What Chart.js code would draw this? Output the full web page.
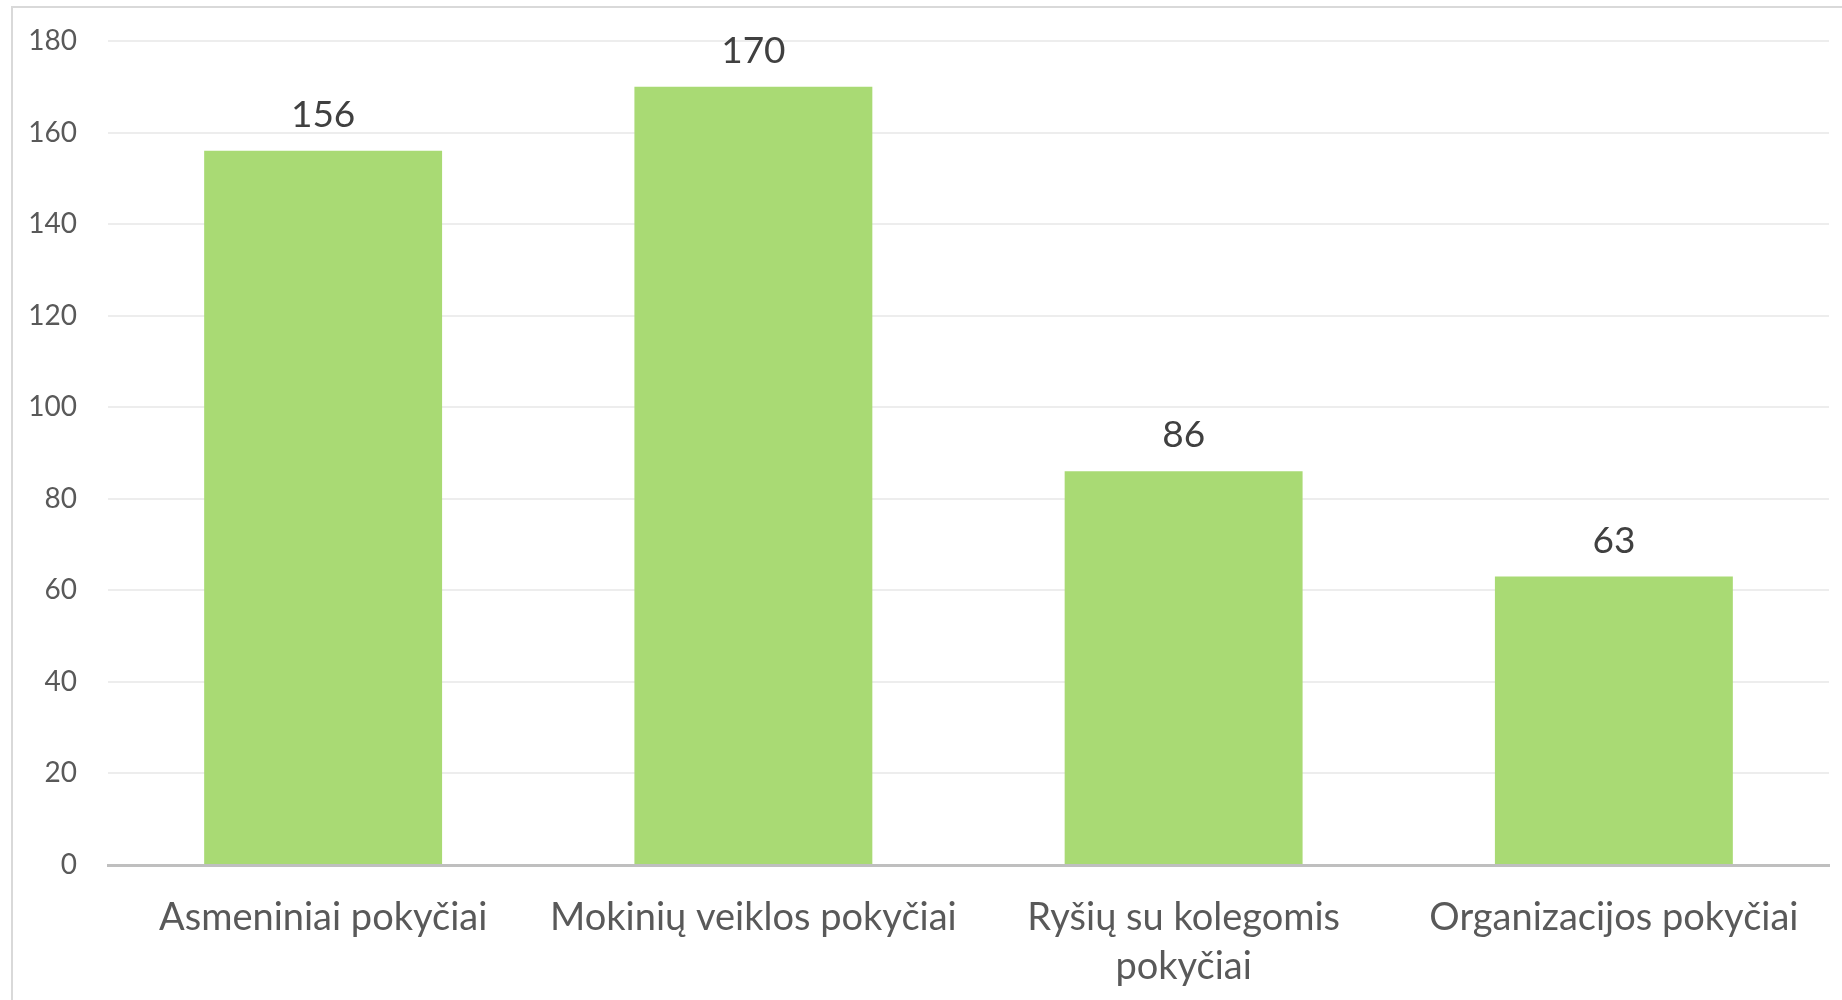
<!DOCTYPE html>
<html>
<head>
<meta charset="utf-8">
<script src="https://cdn.jsdelivr.net/npm/chart.js@4.4.1/dist/chart.umd.min.js"></script>
<style>
  html, body { margin: 0; padding: 0; background: #fff; }
  canvas { display: block; }
</style>
</head>
<body>
<canvas id="myChart" width="1842" height="1000"></canvas>
<script>
  // Data
  const categories = [
    'Asmeniniai pokyčiai',
    'Mokinių veiklos pokyčiai',
    ['Ryšių su kolegomis', 'pokyčiai'],
    'Organizacijos pokyčiai'
  ]
  const counts = [156, 170, 86, 63]
  const yTicks = [0, 20, 40, 60, 80, 100, 120, 140, 160, 180]

  const font = 'Lato, Carlito, Calibri, sans-serif'

  // outer frame, cut off at right and bottom like the screenshot
  const framePlugin = {
    id: 'frame',
    beforeDraw (chart) {
      const c = chart.ctx
      c.save()
      c.fillStyle = '#fff'
      c.fillRect(0, 0, chart.width, chart.height)
      c.strokeStyle = '#d9d9d9'
      c.lineWidth = 2
      c.strokeRect(12, 7, chart.width + 20, chart.height + 20)
      c.restore()
    }
  }

  // value labels above bars
  const valueLabels = {
    id: 'valueLabels',
    afterDatasetsDraw (chart) {
      const c = chart.ctx
      const meta = chart.getDatasetMeta(0)
      c.save()
      c.font = '37px ' + font
      c.fillStyle = '#404040'
      c.textAlign = 'center'
      c.textBaseline = 'alphabetic'
      meta.data.forEach((bar, i) => {
        c.fillText(String(counts[i]), bar.x, bar.y - 24)
      })
      c.restore()
    }
  }

  const ctx = document.getElementById('myChart')
  const myChart = new Chart(ctx, {
    type: 'bar',
    data: {
      labels: categories,
      datasets: [{
        data: counts,
        backgroundColor: '#a9da74',
        borderWidth: 0,
        categoryPercentage: 1,
        barPercentage: 0.553
      }]
    },
    options: {
      responsive: false,
      animation: false,
      layout: { padding: { top: 41, right: 13, left: 0, bottom: 0 } },
      plugins: {
        legend: { display: false },
        tooltip: { enabled: false }
      },
      scales: {
        x: {
          grid: { display: false, drawTicks: false },
          border: { color: '#bfbfbf', width: 3 },
          ticks: {
            color: '#595959',
            font: { family: font, size: 38, lineHeight: 1.3 },
            padding: 28,
            maxRotation: 0,
            autoSkip: false
          },
          afterFit (scale) { scale.height = 135 }
        },
        y: {
          min: 0,
          max: 180,
          afterBuildTicks (scale) {
            scale.ticks = yTicks.map(v => ({ value: v }))
          },
          grid: { color: '#ededed', lineWidth: 2, drawTicks: false },
          border: { display: false },
          ticks: {
            color: '#595959',
            font: { family: font, size: 28 },
            padding: 31
          },
          afterFit (scale) {
            scale.width = 108
            scale.paddingTop = 0
            scale.paddingBottom = 0
          }
        }
      }
    },
    plugins: [framePlugin, valueLabels]
  })
</script>
</body>
</html>
